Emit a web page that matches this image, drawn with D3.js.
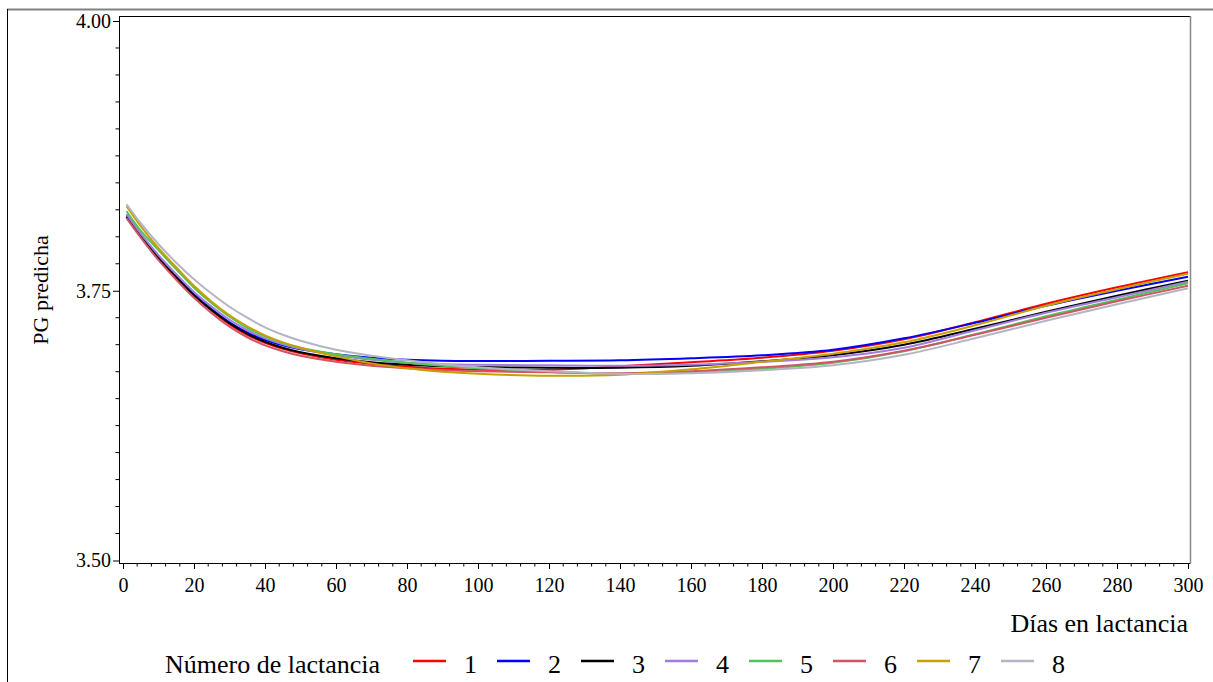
<!DOCTYPE html>
<html><head><meta charset="utf-8">
<script src="https://cdn.jsdelivr.net/npm/d3@7"></script>
<style>html,body{margin:0;padding:0;background:#fff;} svg{display:block;}</style>
</head><body>
<svg id="c" width="1213" height="682"></svg>
<script>
const days = [1,5,10,15,20,25,30,35,40,45,50,60,70,80,90,100,120,140,160,180,200,220,240,260,280,300];
const lact1 = [3.8182,3.8006,3.7801,3.7621,3.7458,3.7314,3.7189,3.7092,3.7018,3.6962,3.6920,3.6860,3.6823,3.6795,3.6776,3.6767,3.6767,3.6800,3.6837,3.6878,3.6943,3.7050,3.7208,3.7379,3.7532,3.7672];
const lact2 = [3.8200,3.8019,3.7814,3.7635,3.7468,3.7328,3.7208,3.7115,3.7045,3.6994,3.6957,3.6911,3.6878,3.6860,3.6851,3.6849,3.6851,3.6855,3.6874,3.6902,3.6953,3.7059,3.7203,3.7361,3.7500,3.7630];
const lact3 = [3.8182,3.8006,3.7806,3.7625,3.7458,3.7319,3.7199,3.7101,3.7027,3.6971,3.6930,3.6874,3.6837,3.6814,3.6800,3.6793,3.6786,3.6786,3.6804,3.6846,3.6902,3.6999,3.7147,3.7305,3.7454,3.7593];
const lact4 = [3.8210,3.8029,3.7829,3.7653,3.7489,3.7352,3.7231,3.7134,3.7059,3.7004,3.6962,3.6902,3.6860,3.6832,3.6818,3.6814,3.6809,3.6804,3.6814,3.6841,3.6883,3.6971,3.7134,3.7296,3.7440,3.7583];
const lact5 = [3.8237,3.8057,3.7876,3.7699,3.7528,3.7384,3.7259,3.7157,3.7078,3.7018,3.6971,3.6911,3.6869,3.6832,3.6804,3.6781,3.6749,3.6730,3.6739,3.6776,3.6832,3.6939,3.7096,3.7263,3.7417,3.7570];
const lact6 = [3.8173,3.7992,3.7783,3.7602,3.7435,3.7291,3.7166,3.7069,3.6994,3.6939,3.6897,3.6841,3.6804,3.6781,3.6763,3.6753,3.6744,3.6735,3.6753,3.6790,3.6841,3.6943,3.7092,3.7250,3.7403,3.7546];
const lact7 = [3.8284,3.8098,3.7894,3.7718,3.7546,3.7398,3.7273,3.7171,3.7087,3.7022,3.6971,3.6892,3.6827,3.6781,3.6749,3.6730,3.6712,3.6721,3.6772,3.6841,3.6916,3.7022,3.7180,3.7361,3.7514,3.7658];
const lact8 = [3.8302,3.8126,3.7931,3.7760,3.7607,3.7472,3.7352,3.7250,3.7161,3.7092,3.7036,3.6953,3.6897,3.6855,3.6818,3.6790,3.6753,3.6730,3.6735,3.6763,3.6809,3.6906,3.7059,3.7222,3.7375,3.7523];
const seriesNames = ["1","2","3","4","5","6","7","8"];
const seriesValues = [lact1,lact2,lact3,lact4,lact5,lact6,lact7,lact8];
const colors = ["#FF0000","#0000FF","#000000","#A07CE0","#50C35A","#D25564","#C8A000","#B4B4C4"];
const xTicks = [0,20,40,60,80,100,120,140,160,180,200,220,240,260,280,300];
const yTicks = [3.50,3.75,4.00];
const xTitle = "Días en lactancia";
const yTitle = "PG predicha";
const legendTitle = "Número de lactancia";

const svg = d3.select("#c");
const font = "'Liberation Serif','Times New Roman',serif";
const x = d3.scaleLinear().domain([0,300]).range([123,1188]);
const y = d3.scaleLinear().domain([3.5,4.0]).range([560.5,21]);
const L = 119, R = 1190.5, T = 16, B = 563;

// outer frame
svg.append("line").attr("x1",7).attr("x2",1213).attr("y1",9.5).attr("y2",9.5).attr("stroke","#808080").attr("stroke-width",2);
svg.append("line").attr("x1",7.5).attr("x2",7.5).attr("y1",9).attr("y2",682).attr("stroke","#000").attr("stroke-width",1);

// plot box
svg.append("line").attr("x1",L).attr("x2",R).attr("y1",T+0.5).attr("y2",T+0.5).attr("stroke","#000");
svg.append("line").attr("x1",R).attr("x2",R).attr("y1",T).attr("y2",B).attr("stroke","#888").attr("stroke-width",1.5);

// x axis
const xMinor = d3.range(0,301,4).filter(d=>d%20!==0);
const xg = svg.append("g").attr("transform",`translate(0,${B})`);
xg.call(d3.axisBottom(x).tickValues(xTicks).tickSize(6).tickFormat(d3.format("d")));
xg.selectAll(".tick text").attr("font-family",font).attr("font-size",20).attr("fill","#000").attr("dy","1.0em");
xg.select(".domain").attr("d",`M${L},0.5H${R}`).attr("stroke","#000");
xg.selectAll(".tick line").attr("stroke","#000");
xg.selectAll(".minor").data(xMinor).enter().append("line").attr("class","minor")
  .attr("x1",d=>x(d)).attr("x2",d=>x(d)).attr("y1",0).attr("y2",3.5).attr("stroke","#000");

// y axis
const yMinor = d3.range(0,21).map(i=>3.5+i*0.025).filter((d,i)=>i%10!==0);
const yg = svg.append("g").attr("transform",`translate(${L},0)`);
yg.call(d3.axisLeft(y).tickValues(yTicks).tickSize(6).tickFormat(d3.format(".2f")));
yg.selectAll(".tick text").attr("font-family",font).attr("font-size",20).attr("fill","#000").attr("x",-8);
yg.select(".domain").attr("d",`M0.5,${T}V${B}`).attr("stroke","#000");
yg.selectAll(".tick line").attr("stroke","#000");
yg.selectAll(".minor").data(yMinor).enter().append("line").attr("class","minor")
  .attr("x1",-3.5).attr("x2",0).attr("y1",d=>y(d)).attr("y2",d=>y(d)).attr("stroke","#000");

// titles
svg.append("text").attr("x",1188).attr("y",632).attr("text-anchor","end")
  .attr("font-family",font).attr("font-size",26).text(xTitle);
svg.append("text").attr("transform","translate(48,290) rotate(-90)").attr("text-anchor","middle")
  .attr("font-family",font).attr("font-size",22).text(yTitle);

// curves
const line = d3.line().x(d=>x(d[0])).y(d=>y(d[1])).curve(d3.curveCatmullRom.alpha(0.5));
seriesValues.forEach((vals,i)=>{
  svg.append("path").datum(days.map((d,j)=>[d,vals[j]]))
    .attr("d",line).attr("fill","none").attr("stroke",colors[i]).attr("stroke-width",2);
});

// legend
svg.append("text").attr("x",165).attr("y",673).attr("font-family",font).attr("font-size",26).text(legendTitle);
seriesNames.forEach((n,i)=>{
  const x0 = 413 + i*84;
  svg.append("line").attr("x1",x0).attr("x2",x0+33).attr("y1",661).attr("y2",661)
    .attr("stroke",colors[i]).attr("stroke-width",2.5);
  svg.append("text").attr("x",x0+51).attr("y",673).attr("font-family",font).attr("font-size",26).text(n);
});
</script>
</body></html>
